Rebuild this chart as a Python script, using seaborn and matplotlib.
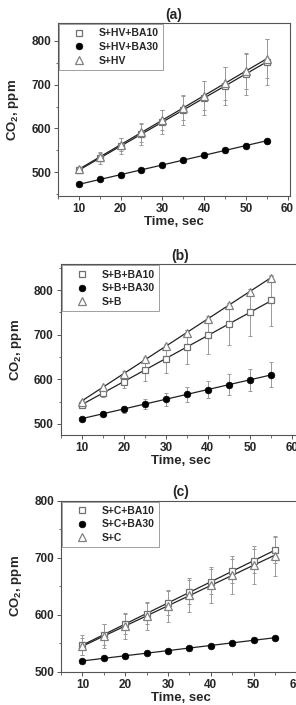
import numpy as np
import pandas as pd
import matplotlib
matplotlib.use("Agg")
import matplotlib.pyplot as plt
from matplotlib.ticker import MultipleLocator
import seaborn as sns

time = [10, 15, 20, 25, 30, 35, 40, 45, 50, 55]

# panel (a)
a_ba10 = [505, 532, 560, 587, 615, 642, 670, 697, 724, 752]
a_ba10_err = [7, 14, 19, 24, 28, 34, 39, 44, 48, 52]
a_ba30 = [473, 484, 494, 505, 517, 528, 539, 550, 561, 572]
a_ba30_err = [4, 4, 5, 5, 5, 5, 5, 6, 6, 7]
a_ctrl = [507, 535, 563, 591, 619, 647, 675, 703, 731, 759]
a_ctrl_err = [6, 10, 15, 21, 23, 28, 33, 37, 40, 44]

# panel (b)
b_ba10 = [543, 570, 595, 620, 646, 672, 699, 724, 750, 777]
b_ba10_err = [8, 10, 15, 24, 32, 38, 43, 48, 52, 58]
b_ba30 = [512, 523, 533, 544, 555, 566, 577, 588, 599, 610]
b_ba30_err = [4, 5, 8, 11, 14, 17, 20, 23, 25, 28]
b_ctrl = [550, 582, 613, 645, 675, 705, 736, 766, 797, 828]
b_ctrl_err = [4, 4, 5, 5, 5, 5, 5, 5, 5, 5]

# panel (c)
c_ba10 = [547, 565, 584, 602, 621, 639, 658, 676, 695, 713]
c_ba10_err = [18, 18, 18, 19, 21, 21, 22, 21, 21, 23]
c_ba30 = [519, 524, 528, 533, 537, 542, 546, 551, 555, 560]
c_ba30_err = [3, 3, 3, 3, 3, 3, 3, 3, 3, 3]
c_ctrl = [545, 562, 580, 598, 616, 634, 652, 670, 687, 703]
c_ctrl_err = [15, 21, 23, 24, 28, 30, 32, 33, 34, 35]

panels = [
    ("(a)", ["S+HV+BA10", "S+HV+BA30", "S+HV"],
     [a_ba10, a_ba30, a_ctrl], [a_ba10_err, a_ba30_err, a_ctrl_err], (446, 840), (5, 60.6)),
    ("(b)", ["S+B+BA10", "S+B+BA30", "S+B"],
     [b_ba10, b_ba30, b_ctrl], [b_ba10_err, b_ba30_err, b_ctrl_err], (475, 858), (5, 62)),
    ("(c)", ["S+C+BA10", "S+C+BA30", "S+C"],
     [c_ba10, c_ba30, c_ctrl], [c_ba10_err, c_ba30_err, c_ctrl_err], (500, 800), (5, 61)),
]

sns.set_theme(style="ticks")
plt.rcParams['font.family'] = ['Liberation Sans', 'DejaVu Sans']
plt.rcParams['font.weight'] = 'bold'
plt.rcParams['mathtext.fontset'] = 'custom'
plt.rcParams['mathtext.rm'] = 'Liberation Sans:bold'
plt.rcParams['mathtext.bf'] = 'Liberation Sans:bold'

fig = plt.figure(figsize=(2.96, 7.05), dpi=100)
boxes = [
    [0.196, 0.722, 0.784, 0.245],
    [0.205, 0.383, 0.81, 0.242],
    [0.206, 0.047, 0.81, 0.243],
]

styles = [
    dict(marker="s", ms=4.3, mfc="white", mec="#707070", mew=0.9),
    dict(marker="o", ms=4.8, mfc="black", mec="black", mew=0.5),
    dict(marker="^", ms=5.2, mfc="white", mec="#808080", mew=0.9),
]

spine_col = "#555555"

for box, (title, names, series, errs, ylim, xlim) in zip(boxes, panels):
    ax = fig.add_axes(box)
    for name, vals, err, st in zip(names, series, errs, styles):
        df = pd.DataFrame({"t": time, "co2": vals})
        ax.errorbar(time, vals, yerr=err, fmt="none", ecolor="#999999",
                    elinewidth=0.7, capsize=1.5, capthick=0.7, zorder=2)
        sns.regplot(data=df, x="t", y="co2", ax=ax, scatter=False, ci=None,
                    line_kws=dict(color="#222222", lw=0.9, zorder=3))
        ax.plot(time, vals, ls="none", label=name, zorder=4, **st)

    ax.set_xlim(*xlim)
    ax.set_ylim(*ylim)
    ax.xaxis.set_major_locator(MultipleLocator(10))
    ax.xaxis.set_minor_locator(MultipleLocator(5))
    ax.yaxis.set_major_locator(MultipleLocator(100))
    ax.yaxis.set_minor_locator(MultipleLocator(50))
    ax.tick_params(which="major", direction="out", length=3, width=0.7,
                   color=spine_col, labelsize=8.5, pad=2)
    ax.tick_params(which="minor", direction="out", length=1.8, width=0.6,
                   color=spine_col)
    for lab in ax.get_xticklabels() + ax.get_yticklabels():
        lab.set_fontweight("bold")
    for sp in ax.spines.values():
        sp.set_visible(True)
        sp.set_color(spine_col)
        sp.set_linewidth(0.8)

    ax.set_xlabel("Time, sec", fontsize=9.5, fontweight="bold", labelpad=1)
    ax.set_ylabel(r"CO$_\mathbf{2}$, ppm", fontsize=9.5, fontweight="bold", labelpad=7)
    ax.set_title(title, fontsize=10, fontweight="bold", pad=3)

    leg = ax.legend(loc="upper left", frameon=True, fancybox=False,
                    borderpad=0.4, labelspacing=0.35, handletextpad=0.4,
                    handlelength=3.0, borderaxespad=0.1,
                    prop=dict(weight="bold", size=7.5))
    leg.get_frame().set_edgecolor("#888888")
    leg.get_frame().set_linewidth(0.7)

fig.savefig("out.png", dpi=100)
